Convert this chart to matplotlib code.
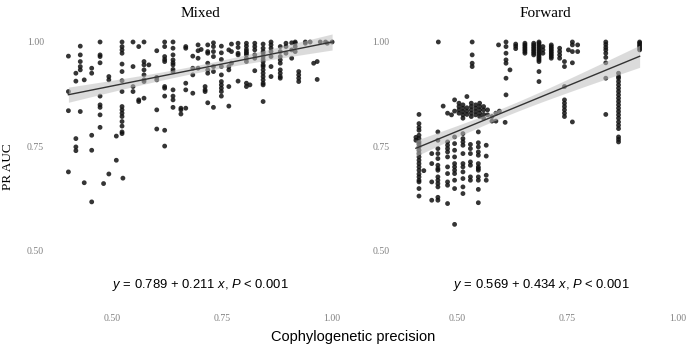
import numpy as np
import matplotlib
matplotlib.use("Agg")
import matplotlib.pyplot as plt

panel_titles = ["Mixed", "Forward"]
fit_intercept = [0.789, 0.569]
fit_slope = [0.211, 0.434]
p_label = ["< 0.001", "< 0.001"]
x_ticks = [0.50, 0.75, 1.00]
y_ticks = [0.50, 0.75, 1.00]

mixed_col_x = [0.400, 0.417, 0.427, 0.436, 0.453, 0.472, 0.480, 0.492, 0.509, 0.522,
               0.524, 0.547, 0.560, 0.572, 0.583, 0.601, 0.619, 0.638, 0.656, 0.667,
               0.683, 0.695, 0.702, 0.711, 0.717, 0.730, 0.748, 0.765, 0.771, 0.786,
               0.805, 0.813, 0.824, 0.843, 0.861, 0.882, 0.895, 0.908, 0.916, 0.924,
               0.939, 0.950, 0.958, 0.966, 0.973, 0.985, 0.989, 1.000]
mixed_col_y = [
    [0.966, 0.881, 0.835, 0.688],
    [0.925, 0.906, 0.768, 0.748, 0.739],
    [0.990, 0.969, 0.953, 0.941, 0.933, 0.833],
    [0.909, 0.662],
    [0.937, 0.925, 0.776, 0.740, 0.616],
    [1.000, 0.969, 0.965, 0.950, 0.870, 0.849, 0.843, 0.825, 0.795],
    [0.660],
    [0.917, 0.909, 0.683],
    [0.774, 0.716],
    [1.000, 0.989, 0.981, 0.973, 0.947, 0.929, 0.907, 0.881, 0.845, 0.837, 0.829, 0.821, 0.809, 0.798, 0.784, 0.780],
    [0.673],
    [1.000, 0.941, 0.893, 0.881],
    [0.989, 0.861, 0.857],
    [1.000, 0.953, 0.945, 0.933, 0.921, 0.909, 0.905, 0.865],
    [0.945],
    [0.979, 0.915, 0.909, 0.837, 0.791],
    [1.000, 0.989, 0.965, 0.958, 0.953, 0.893, 0.889, 0.870, 0.788, 0.750],
    [1.000, 0.985, 0.969, 0.957, 0.950, 0.945, 0.934, 0.929, 0.885, 0.870, 0.861, 0.843],
    [0.841, 0.837, 0.827],
    [0.989, 0.985, 0.901, 0.885, 0.841],
    [0.966, 0.937, 0.921, 0.877],
    [0.993, 0.979, 0.961, 0.937],
    [0.982],
    [0.893, 0.885, 0.881],
    [0.993, 0.977, 0.973, 0.949, 0.933, 0.925, 0.854],
    [0.998, 0.989, 0.977, 0.965, 0.941, 0.929, 0.843],
    [0.990, 0.974, 0.958, 0.941, 0.921, 0.905, 0.897, 0.889, 0.881, 0.870],
    [0.981, 0.941, 0.933, 0.893, 0.846],
    [0.995, 0.977, 0.949],
    [0.997, 0.987, 0.973, 0.969, 0.906],
    [0.997, 0.990, 0.982, 0.977, 0.973, 0.969, 0.961, 0.953, 0.901, 0.893],
    [0.897],
    [0.997, 0.989, 0.981, 0.969, 0.961, 0.931],
    [0.995, 0.985, 0.977, 0.973, 0.965, 0.958, 0.953, 0.945, 0.941, 0.933, 0.925, 0.917, 0.909, 0.901, 0.897, 0.857],
    [1.000, 0.993, 0.985, 0.977, 0.965, 0.941, 0.917],
    [0.989, 0.977, 0.965, 0.957, 0.949, 0.933, 0.925, 0.917, 0.913],
    [0.997, 0.989, 0.973],
    [0.998, 0.981, 0.961],
    [1.000, 0.997, 0.989, 0.977],
    [0.929, 0.921, 0.913, 0.905],
    [1.000, 0.997],
    [1.000],
    [0.949],
    [0.953, 0.910],
    [1.000],
    [1.000],
    [0.997],
    [1.000],
]

forward_col_x = [0.405, 0.412, 0.423, 0.441, 0.455, 0.456, 0.467, 0.477, 0.486, 0.493,
                 0.503, 0.512, 0.521, 0.529, 0.531, 0.533, 0.541, 0.547, 0.550, 0.559,
                 0.565, 0.568, 0.578, 0.587, 0.593, 0.595, 0.608, 0.610, 0.619, 0.632,
                 0.653, 0.673, 0.685, 0.694, 0.713, 0.732, 0.743, 0.752, 0.761, 0.773,
                 0.837, 0.866, 0.914]
forward_col_y = [
    [0.771, 0.764],
    [0.826, 0.804, 0.795, 0.788, 0.776, 0.768, 0.760, 0.755, 0.748, 0.740, 0.732, 0.724, 0.716, 0.708, 0.700, 0.692, 0.683, 0.676, 0.668, 0.664, 0.648, 0.630],
    [0.691],
    [0.732, 0.708, 0.664, 0.620],
    [0.784, 0.764, 0.744, 0.732, 0.720, 0.704, 0.696, 0.692, 0.676, 0.668, 0.660, 0.652, 0.627, 0.620],
    [1.000],
    [0.846],
    [0.829, 0.760, 0.752, 0.744, 0.736, 0.724, 0.700, 0.684, 0.664, 0.656, 0.612],
    [0.825],
    [0.861, 0.834, 0.772, 0.756, 0.740, 0.724, 0.708, 0.700, 0.692, 0.684, 0.668, 0.648, 0.562],
    [0.853, 0.845, 0.837, 0.829],
    [0.849, 0.841, 0.833, 0.825, 0.817, 0.780, 0.768, 0.760, 0.752, 0.732, 0.708, 0.700, 0.688, 0.672, 0.652, 0.636],
    [0.869, 0.842, 0.834, 0.826],
    [0.754, 0.744, 0.732, 0.712, 0.704, 0.676, 0.668],
    [0.853, 0.845, 0.837, 0.829, 0.821],
    [1.000, 0.969, 0.949, 0.941],
    [0.849, 0.841, 0.833, 0.825],
    [0.784, 0.758, 0.748, 0.736, 0.728, 0.708, 0.700, 0.696, 0.692, 0.676, 0.668, 0.646, 0.614],
    [0.853, 0.845, 0.837, 0.829, 0.821],
    [0.845, 0.837, 0.826, 0.817],
    [0.752, 0.726, 0.680, 0.668],
    [0.837, 0.825],
    [0.821, 0.810],
    [0.829, 0.810],
    [0.993],
    [0.834],
    [0.807],
    [1.000, 0.989, 0.973, 0.957, 0.949, 0.913, 0.873],
    [0.933],
    [0.995, 0.990, 0.984],
    [0.997, 0.993, 0.989, 0.985, 0.981, 0.977, 0.973],
    [0.997, 0.993, 0.989, 0.985, 0.981, 0.977, 0.973, 0.969],
    [1.000, 0.997, 0.993, 0.989, 0.985, 0.981, 0.977, 0.973, 0.969, 0.965, 0.961, 0.957, 0.953, 0.929, 0.905],
    [0.989, 0.981, 0.973],
    [0.993, 0.989, 0.985, 0.981, 0.977, 0.973, 0.969, 0.965, 0.961],
    [0.985, 0.977, 0.969, 0.961],
    [0.953, 0.941, 0.893, 0.861, 0.853, 0.845, 0.837, 0.829, 0.821],
    [0.981],
    [1.000, 0.993, 0.977, 0.950, 0.808],
    [0.993, 0.977],
    [1.000, 0.994, 0.987, 0.981, 0.973, 0.963, 0.950, 0.913, 0.826],
    [0.925, 0.917, 0.913, 0.905, 0.897, 0.889, 0.881, 0.873, 0.865, 0.857, 0.849, 0.841, 0.833, 0.825, 0.817, 0.808, 0.800, 0.792, 0.772, 0.766, 0.760],
    [1.000, 0.997, 0.993, 0.989, 0.985, 0.981],
]


def expand(cx, cy):
    xs, ys = [], []
    for x, col in zip(cx, cy):
        for y in col:
            xs.append(x)
            ys.append(y)
    return np.array(xs), np.array(ys)


plt.rcParams['mathtext.fontset'] = 'custom'
plt.rcParams['mathtext.rm'] = 'Liberation Sans'
plt.rcParams['mathtext.it'] = 'Liberation Sans:italic'

fig = plt.figure(figsize=(6.99, 3.47), dpi=100)
axes_rects = [[0.079, 0.135, 0.415, 0.768], [0.573, 0.135, 0.415, 0.768]]
eq_x = [0.70, 0.69]
datasets = [expand(mixed_col_x, mixed_col_y), expand(forward_col_x, forward_col_y)]

for i, (rect, (xs, ys)) in enumerate(zip(axes_rects, datasets)):
    ax = fig.add_axes(rect)
    ax.scatter(xs, ys, s=12, color='#111111', alpha=0.85, edgecolors='none', zorder=2)
    # regression line (coefficients as reported) with 95% CI band
    n = len(xs)
    a, b = fit_intercept[i], fit_slope[i]
    xx = np.linspace(xs.min(), xs.max(), 100)
    yy = a + b * xx
    resid = ys - (a + b * xs)
    s = np.sqrt(np.sum(resid ** 2) / (n - 2))
    sxx = np.sum((xs - xs.mean()) ** 2)
    se = s * np.sqrt(1.0 / n + (xx - xs.mean()) ** 2 / sxx)
    ax.fill_between(xx, yy - 1.97 * se, yy + 1.97 * se, color='#bfbfbf', alpha=0.55,
                    linewidth=0, zorder=3)
    ax.plot(xx, yy, color='#333333', lw=1.0, zorder=4)
    label = (r"$\it{y}$ = " + f"{a:.3f} + {b:.3f} " + r"$\it{x}$, $\it{P}$ " + p_label[i])
    ax.text(eq_x[i], 0.416, label, ha='center', va='center', fontsize=9.4,
            family='Liberation Sans')
    ax.set_xlim(0.37, 1.03)
    ax.set_ylim(0.38, 1.02)
    ax.set_xticks(x_ticks)
    ax.set_xticklabels([f"{t:.2f}" for t in x_ticks], family='Liberation Serif',
                       fontsize=7, color='#808080')
    ax.set_yticks(y_ticks)
    ax.set_yticklabels([f"{t:.2f}" for t in y_ticks], family='Liberation Serif',
                       fontsize=7, color='#808080')
    ax.tick_params(length=0, pad=8)
    ax.tick_params(axis='x', pad=10)
    for sp in ax.spines.values():
        sp.set_visible(False)
    ax.set_title(panel_titles[i], family='Liberation Serif', fontsize=11, pad=12)
    if i == 0:
        ax.set_ylabel("PR AUC", family='Liberation Serif', fontsize=9.5, labelpad=9)

fig.text(0.505, 0.028, "Cophylogenetic precision", ha='center', va='center',
         family='Liberation Sans', fontsize=10.5)

fig.savefig("out.png", dpi=100)
